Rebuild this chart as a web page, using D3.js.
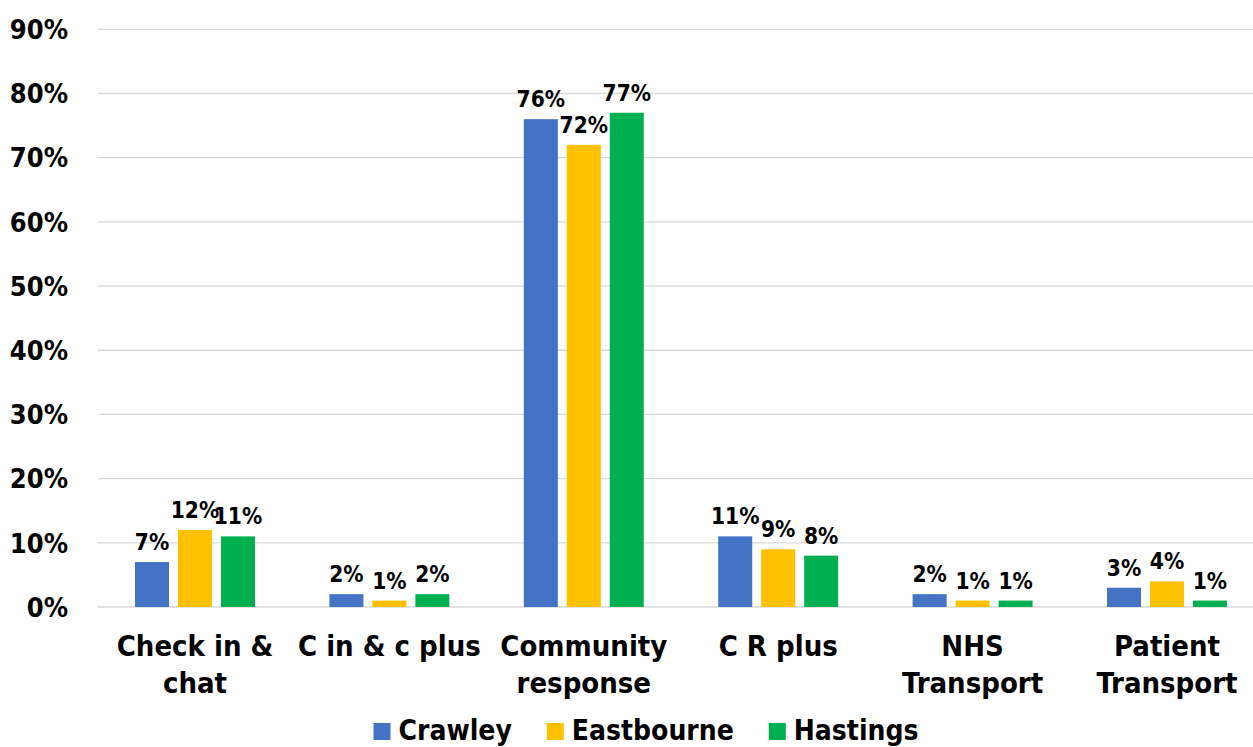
<!DOCTYPE html>
<html>
<head>
<meta charset="utf-8">
<script src="https://cdn.jsdelivr.net/npm/d3@7"></script>
<style>
  html, body { margin: 0; padding: 0; background: #fff; }
  svg { display: block; }
  text { font-family: "DejaVu Sans Condensed", "DejaVu Sans", sans-serif; font-stretch: condensed; font-weight: bold; fill: #000; }
</style>
</head>
<body>
<svg id="chart" width="1253" height="747"></svg>
<script>
// Service categories (two-line labels split on "\n")
const categories = ["Check in &\nchat", "C in & c plus", "Community\nresponse", "C R plus", "NHS\nTransport", "Patient\nTransport"];
const seriesNames = ["Crawley", "Eastbourne", "Hastings"];
const seriesColors = ["#4472C4", "#FFC000", "#00B050"];

// Percentages per area, in category order
const crawley    = [7, 2, 76, 11, 2, 3];
const eastbourne = [12, 1, 72, 9, 1, 4];
const hastings   = [11, 2, 77, 8, 1, 1];
const seriesValues = [crawley, eastbourne, hastings];

const yTicks = [0, 10, 20, 30, 40, 50, 60, 70, 80, 90];

const svg = d3.select("#chart");
const plot = { left: 97.8, right: 1264.2, top: 29.3, bottom: 607 };

const y = d3.scaleLinear().domain([0, 90]).range([plot.bottom, plot.top]);

const x0 = d3.scaleBand()
  .domain(d3.range(categories.length))
  .range([plot.left, plot.right])
  .paddingInner(0.383)
  .paddingOuter(0.1915);

const x1 = d3.scaleBand()
  .domain(d3.range(seriesNames.length))
  .range([0, x0.bandwidth()])
  .paddingInner(0.209)
  .paddingOuter(0);

// Horizontal gridlines
svg.append("g")
  .selectAll("line")
  .data(yTicks)
  .join("line")
  .attr("x1", plot.left)
  .attr("x2", 1253)
  .attr("y1", d => y(d))
  .attr("y2", d => y(d))
  .attr("stroke", "#d9d9d9")
  .attr("stroke-width", 1.3);

// Y axis tick labels
svg.append("g")
  .selectAll("text")
  .data(yTicks)
  .join("text")
  .attr("x", 68)
  .attr("y", d => y(d))
  .attr("dy", "0.36em")
  .attr("text-anchor", "end")
  .style("font-size", "27px")
  .text(d => d + "%");

// Bars and value labels
const groups = svg.append("g")
  .selectAll("g")
  .data(categories.map((c, i) => i))
  .join("g")
  .attr("transform", i => `translate(${x0(i)},0)`);

groups.selectAll("rect")
  .data(i => seriesValues.map((vals, s) => ({ s, v: vals[i] })))
  .join("rect")
  .attr("x", d => x1(d.s))
  .attr("width", x1.bandwidth())
  .attr("y", d => y(d.v))
  .attr("height", d => y(0) - y(d.v))
  .attr("fill", d => seriesColors[d.s]);

groups.selectAll("text.val")
  .data(i => seriesValues.map((vals, s) => ({ s, v: vals[i] })))
  .join("text")
  .attr("class", "val")
  .attr("x", d => x1(d.s) + x1.bandwidth() / 2)
  .attr("y", d => y(d.v) - 12)
  .attr("text-anchor", "middle")
  .style("font-size", "22.5px")
  .text(d => d.v + "%");

// Category labels below the axis
const catLabels = svg.append("g")
  .selectAll("text")
  .data(categories)
  .join("text")
  .attr("x", (d, i) => x0(i) + x0.bandwidth() / 2)
  .attr("y", 656)
  .attr("text-anchor", "middle")
  .style("font-size", "29px");

catLabels.selectAll("tspan")
  .data(d => d.split("\n"))
  .join("tspan")
  .attr("x", function () { return this.parentNode.getAttribute("x"); })
  .attr("dy", (d, j) => j === 0 ? 0 : 37)
  .text(d => d);

// Legend along the bottom
const legend = svg.append("g");
const sw = 17, gapText = 8, gapItem = 35;
let cursor = 0;
seriesNames.forEach((name, s) => {
  const item = legend.append("g").attr("transform", `translate(${cursor},0)`);
  item.append("rect")
    .attr("x", 0).attr("y", -17)
    .attr("width", sw).attr("height", sw)
    .attr("fill", seriesColors[s]);
  const t = item.append("text")
    .attr("x", sw + gapText)
    .attr("y", 0)
    .style("font-size", "28px")
    .text(name);
  cursor += sw + gapText + t.node().getComputedTextLength() + gapItem;
});
const legendWidth = cursor - gapItem;
legend.attr("transform", `translate(${646 - legendWidth / 2},740)`);
</script>
</body>
</html>
